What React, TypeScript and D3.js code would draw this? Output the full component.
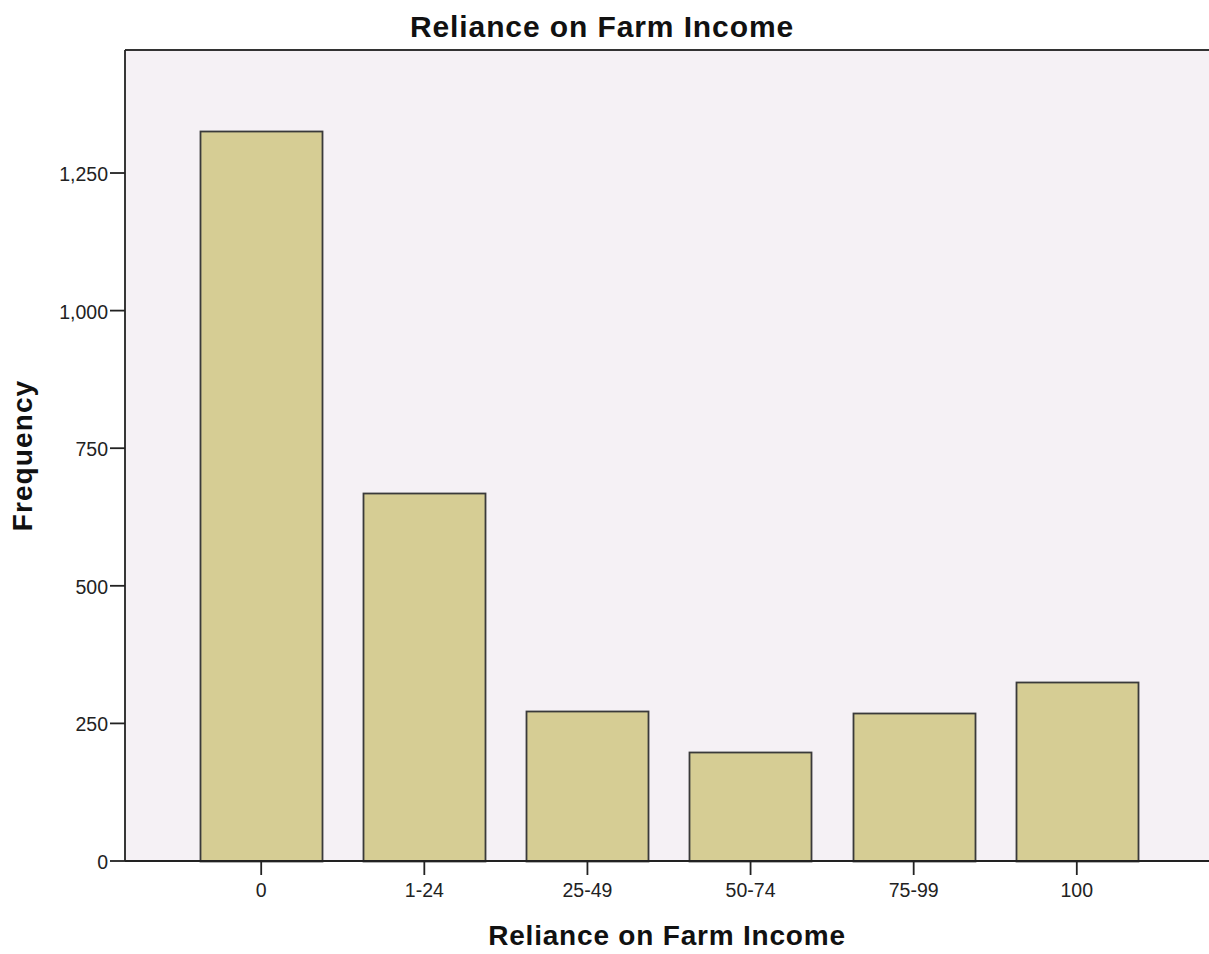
import React from "react";
import * as d3 from "d3";

const categories = ["0", "1-24", "25-49", "50-74", "75-99", "100"];
const frequencies = [1326, 669, 273, 198, 269, 325];
const yTicks = [0, 250, 500, 750, 1000, 1250];

const W = 1209;
const H = 954;
const left = 125;
const top = 50;
const bottom = 861;
const right = 1213;
const font = "'Liberation Sans', Arial, sans-serif";

export default function App() {
  const x = d3
    .scaleBand<string>()
    .domain(categories)
    .range([left, right])
    .paddingInner(0.25)
    .paddingOuter(0.46);
  const y = d3.scaleLinear().domain([0, 1473.5]).range([bottom, top]);
  const fmt = d3.format(",");

  return (
    <svg
      width={W}
      height={H}
      style={{ position: "absolute", left: 0, top: 0, background: "#fff" }}
    >
      <rect x={left} y={top} width={W - left} height={bottom - top} fill="#f5f1f5" />
      {categories.map((c, i) => (
        <rect
          key={c}
          x={Math.round(x(c)!) + 0.5}
          y={Math.round(y(frequencies[i])) + 0.5}
          width={Math.round(x.bandwidth())}
          height={Math.round(bottom - y(frequencies[i]))}
          fill="#d6cd94"
          stroke="#3a3a3a"
          strokeWidth={1.8}
        />
      ))}
      <line x1={left} x2={W} y1={top} y2={top} stroke="#333" strokeWidth={2} />
      <line x1={left} x2={left} y1={top} y2={bottom} stroke="#222" strokeWidth={1.8} />
      <line x1={left} x2={W} y1={bottom} y2={bottom} stroke="#222" strokeWidth={1.8} />
      {yTicks.map((t) => (
        <g key={t}>
          <line x1={left - 15} x2={left} y1={y(t)} y2={y(t)} stroke="#222" strokeWidth={1.8} />
          <text
            x={left - 17}
            y={y(t) + 8}
            textAnchor="end"
            fontFamily={font}
            fontSize={19.5}
            fill="#222"
          >
            {fmt(t)}
          </text>
        </g>
      ))}
      {categories.map((c) => {
        const cx = x(c)! + x.bandwidth() / 2;
        return (
          <g key={c}>
            <line x1={cx} x2={cx} y1={bottom} y2={bottom + 14} stroke="#222" strokeWidth={1.8} />
            <text
              x={cx}
              y={897}
              textAnchor="middle"
              fontFamily={font}
              fontSize={19.5}
              fill="#222"
            >
              {c}
            </text>
          </g>
        );
      })}
      <text
        x={602}
        y={37}
        textAnchor="middle"
        fontFamily={font}
        fontWeight="bold"
        fontSize={30}
        letterSpacing={0.9}
        fill="#111"
      >
        Reliance on Farm Income
      </text>
      <text
        x={(left + W) / 2}
        y={945}
        textAnchor="middle"
        fontFamily={font}
        fontWeight="bold"
        fontSize={28}
        letterSpacing={0.8}
        fill="#111"
      >
        Reliance on Farm Income
      </text>
      <text
        transform={`translate(32, ${(top + bottom) / 2}) rotate(-90)`}
        textAnchor="middle"
        fontFamily={font}
        fontWeight="bold"
        fontSize={28}
        letterSpacing={1.1}
        fill="#111"
      >
        Frequency
      </text>
    </svg>
  );
}
